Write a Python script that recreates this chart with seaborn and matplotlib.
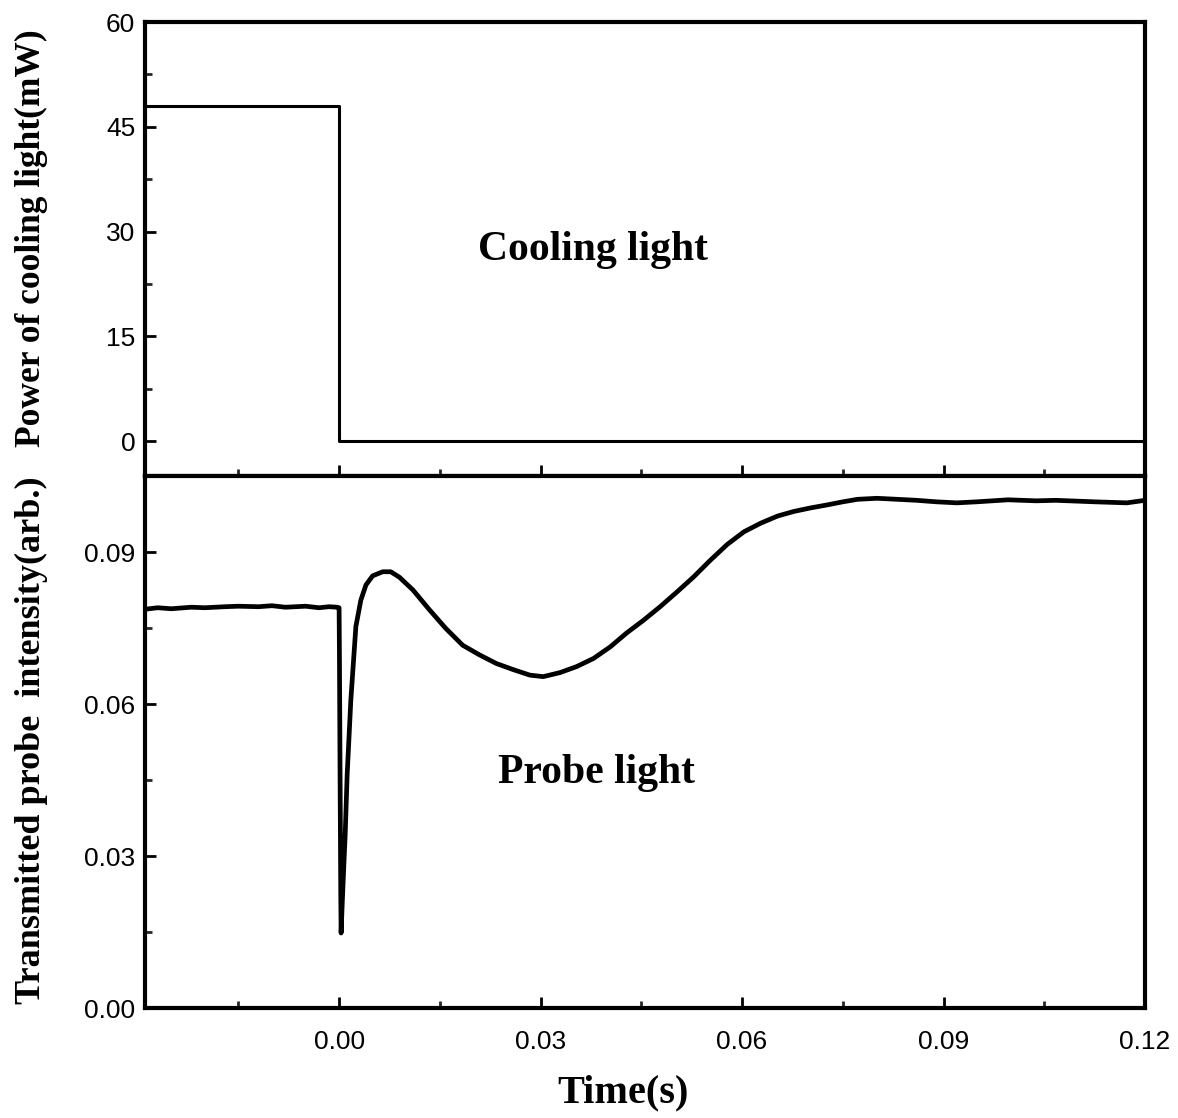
import matplotlib
matplotlib.use("Agg")
import matplotlib.pyplot as plt
import seaborn as sns
import pandas as pd
from matplotlib.ticker import MultipleLocator, FormatStrFormatter

# ---- data ----
t_cool = [-0.0289, 0.0, 0.0, 0.12]
p_cool = [48, 48, 0, 0]

t_probe = [-0.0289, -0.027, -0.025, -0.022, -0.020, -0.017, -0.015, -0.012, -0.010,
           -0.008, -0.005, -0.003, -0.0015, -0.0003, 0.0, 0.00005, 0.00015, 0.00025,
           0.0003, 0.00045, 0.0007, 0.0009, 0.0012, 0.00175, 0.0025, 0.00324, 0.0040,
           0.0050, 0.0065, 0.0077, 0.0090, 0.0110, 0.01345, 0.0159, 0.0184, 0.0209,
           0.0234, 0.0259, 0.0284, 0.0304, 0.0329, 0.0354, 0.0379, 0.0404, 0.0428,
           0.0453, 0.0478, 0.0503, 0.0528, 0.0553, 0.0578, 0.0603, 0.0628, 0.0653,
           0.0677, 0.0702, 0.0727, 0.0750, 0.0772, 0.0801, 0.0831, 0.086, 0.089,
           0.092, 0.0949, 0.0996, 0.1038, 0.1067, 0.1126, 0.1173, 0.12]
v_probe = [0.0787, 0.0790, 0.0788, 0.0791, 0.0790, 0.0792, 0.0793, 0.0792, 0.0794,
           0.0791, 0.0793, 0.0790, 0.0792, 0.0791, 0.0790, 0.070, 0.045, 0.022,
           0.0148, 0.020, 0.028, 0.0339, 0.046, 0.0608, 0.0753, 0.0805, 0.0835,
           0.0853, 0.0861, 0.0861, 0.0850, 0.0825, 0.0786, 0.0749, 0.0716, 0.0697,
           0.0680, 0.0668, 0.0657, 0.0654, 0.0662, 0.0674, 0.0690, 0.0713, 0.0740,
           0.0765, 0.0792, 0.0821, 0.0851, 0.0884, 0.0915, 0.0940, 0.0957, 0.0971,
           0.0980, 0.0987, 0.0993, 0.0999, 0.1004, 0.1006, 0.1004, 0.1002, 0.0999,
           0.0997, 0.0999, 0.1003, 0.1001, 0.1002, 0.0999, 0.0997, 0.1002]

top_yticks = [0, 15, 30, 45, 60]
bot_yticks = [0.00, 0.03, 0.06, 0.09]
xticks = [0.00, 0.03, 0.06, 0.09, 0.12]

cool_df = pd.DataFrame({"t": t_cool, "p": p_cool})
probe_df = pd.DataFrame({"t": t_probe, "v": v_probe})

sns.set_style("ticks")
plt.rcParams["font.family"] = ["Liberation Sans", "DejaVu Sans"]
plt.rcParams["text.color"] = "black"
plt.rcParams["axes.labelcolor"] = "black"

W, H = 1178, 1118
fig = plt.figure(figsize=(W / 100, H / 100), dpi=100)
left = 145 / W
width = 1000 / W
ax1 = fig.add_axes([left, 1 - 476 / H, width, (476 - 22) / H])
ax2 = fig.add_axes([left, 1 - 1008 / H, width, (1008 - 476) / H])

sns.lineplot(data=cool_df, x="t", y="p", ax=ax1, color="black", lw=2.2,
             estimator=None, sort=False)
sns.lineplot(data=probe_df, x="t", y="v", ax=ax2, color="black", lw=3.4,
             estimator=None, sort=False)

serif_bold = dict(family=["Liberation Serif", "DejaVu Serif"], weight="bold",
                  color="black")

for ax in (ax1, ax2):
    ax.set_xlim(-0.0289, 0.12)
    ax.xaxis.set_major_locator(MultipleLocator(0.03))
    ax.xaxis.set_minor_locator(MultipleLocator(0.015))
    for s in ax.spines.values():
        s.set_linewidth(3.0)
        s.set_color("black")
    ax.tick_params(which="major", direction="in", length=8, width=2.0,
                   labelsize=19, colors="black", pad=7)
    ax.tick_params(which="minor", direction="in", length=5, width=2.0)
    ax.tick_params(axis="x", which="major", pad=16)
    ax.set_xlabel("")
    ax.set_ylabel("")

ax1.set_ylim(-5, 60)
ax1.set_yticks(top_yticks)
ax1.yaxis.set_minor_locator(MultipleLocator(7.5))
ax1.tick_params(axis="x", labelbottom=False)

ax2.set_ylim(0, 0.105)
ax2.set_yticks(bot_yticks)
ax2.yaxis.set_major_formatter(FormatStrFormatter("%.2f"))
ax2.yaxis.set_minor_locator(MultipleLocator(0.015))
ax2.set_xticks(xticks)
ax2.xaxis.set_major_formatter(FormatStrFormatter("%.2f"))

ax1.set_ylabel("Power of cooling light(mW)", fontsize=25.5, **serif_bold)
ax1.yaxis.set_label_coords((48 - 145) / 1000, (476 - 238) / 454)
ax2.set_ylabel("Transmitted probe  intensity(arb.)", fontsize=26, **serif_bold)
ax2.yaxis.set_label_coords((48 - 145) / 1000, (1008 - 740) / 532)
ax2.set_xlabel("Time(s)", fontsize=29, **serif_bold)
ax2.xaxis.set_label_coords((623 - 145) / 1000, (1008 - 1074) / 532)

ax1.text(0.0378, 27.3, "Cooling light", fontsize=30, ha="center", va="center", **serif_bold)
ax2.text(0.0383, 0.0464, "Probe light", fontsize=30, ha="center", va="center", **serif_bold)

fig.savefig("out.png", dpi=100, facecolor="white")
